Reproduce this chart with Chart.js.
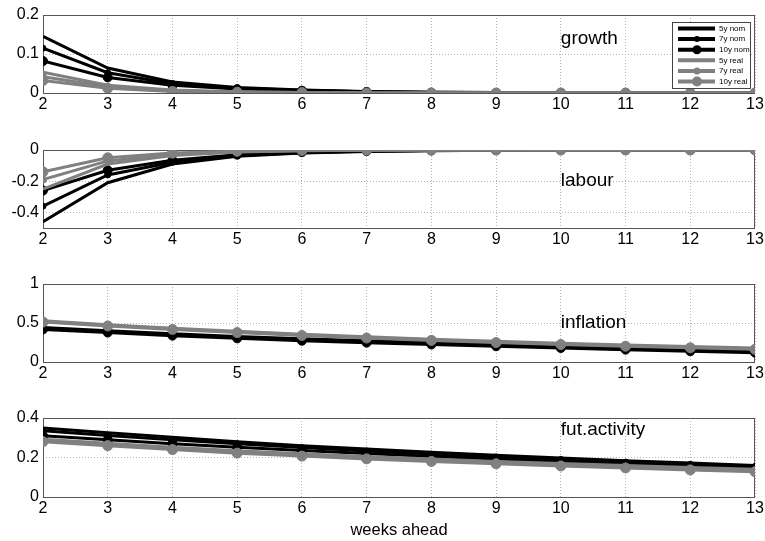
<!DOCTYPE html>
<html>
<head>
<meta charset="utf-8">
<script src="https://cdn.jsdelivr.net/npm/chart.js@4.4.0/dist/chart.umd.min.js"></script>
<style>
body { margin: 0; background: #fff; width: 765px; height: 541px; position: relative; overflow: hidden; }
.panel { position: absolute; left: 0; width: 765px; }
</style>
</head>
<body>
<div class="panel" style="top:5px;height:116px"><canvas id="c0"></canvas></div>
<div class="panel" style="top:140px;height:116px"><canvas id="c1"></canvas></div>
<div class="panel" style="top:274px;height:116px"><canvas id="c2"></canvas></div>
<div class="panel" style="top:408px;height:133px"><canvas id="c3"></canvas></div>
<script>
var weeks = [2, 3, 4, 5, 6, 7, 8, 9, 10, 11, 12, 13];
var seriesNames = ["5y nom", "7y nom", "10y nom", "5y real", "7y real", "10y real"];

// growth
var growth5n  = [0.145, 0.064, 0.028, 0.014, 0.008, 0.004, 0.002, 0.001, 0, 0, 0, 0];
var growth7n  = [0.115, 0.052, 0.024, 0.012, 0.007, 0.003, 0.002, 0.001, 0, 0, 0, 0];
var growth10n = [0.082, 0.040, 0.020, 0.010, 0.006, 0.003, 0.001, 0, 0, 0, 0, 0];
var growth5r  = [0.053, 0.020, 0.008, 0.003, 0.001, 0, 0, 0, 0, 0, 0, 0];
var growth7r  = [0.042, 0.016, 0.006, 0.002, 0.001, 0, 0, 0, 0, 0, 0, 0];
var growth10r = [0.032, 0.012, 0.004, 0.002, 0.001, 0, 0, 0, 0, 0, 0, 0];
// labour
var labour5n  = [-0.46, -0.21, -0.090, -0.040, -0.020, -0.010, -0.005, -0.002, -0.001, 0, 0, 0];
var labour7n  = [-0.36, -0.16, -0.078, -0.035, -0.017, -0.008, -0.004, -0.002, 0, 0, 0, 0];
var labour10n = [-0.26, -0.13, -0.066, -0.030, -0.014, -0.007, -0.003, -0.001, 0, 0, 0, 0];
var labour5r  = [-0.25, -0.09, -0.035, -0.013, -0.005, -0.002, 0, 0, 0, 0, 0, 0];
var labour7r  = [-0.19, -0.07, -0.028, -0.011, -0.004, -0.001, 0, 0, 0, 0, 0, 0];
var labour10r = [-0.14, -0.05, -0.020, -0.008, -0.003, -0.001, 0, 0, 0, 0, 0, 0];
// inflation
var infl5n  = [0.442, 0.402, 0.362, 0.327, 0.297, 0.272, 0.249, 0.226, 0.204, 0.182, 0.162, 0.144];
var infl7n  = [0.430, 0.390, 0.350, 0.315, 0.285, 0.260, 0.237, 0.214, 0.192, 0.170, 0.150, 0.132];
var infl10n = [0.418, 0.378, 0.338, 0.303, 0.273, 0.248, 0.225, 0.202, 0.180, 0.158, 0.138, 0.120];
var infl5r  = [0.528, 0.478, 0.433, 0.393, 0.356, 0.323, 0.293, 0.265, 0.240, 0.218, 0.198, 0.178];
var infl7r  = [0.520, 0.470, 0.425, 0.385, 0.348, 0.315, 0.285, 0.257, 0.232, 0.210, 0.190, 0.170];
var infl10r = [0.512, 0.462, 0.417, 0.377, 0.340, 0.307, 0.277, 0.249, 0.224, 0.202, 0.182, 0.162];
// fut.activity
var fut5n  = [0.350, 0.325, 0.302, 0.280, 0.260, 0.243, 0.226, 0.211, 0.197, 0.184, 0.172, 0.160];
var fut7n  = [0.335, 0.312, 0.290, 0.270, 0.250, 0.233, 0.217, 0.203, 0.190, 0.177, 0.165, 0.154];
var fut10n = [0.310, 0.290, 0.270, 0.252, 0.235, 0.220, 0.205, 0.192, 0.179, 0.167, 0.156, 0.146];
var fut5r  = [0.292, 0.272, 0.252, 0.234, 0.219, 0.205, 0.192, 0.180, 0.169, 0.159, 0.149, 0.140];
var fut7r  = [0.286, 0.266, 0.246, 0.228, 0.213, 0.199, 0.186, 0.174, 0.163, 0.153, 0.143, 0.134];
var fut10r = [0.280, 0.260, 0.240, 0.222, 0.207, 0.193, 0.180, 0.168, 0.157, 0.147, 0.137, 0.128];

var panelTitles = ["growth", "labour", "inflation", "fut.activity"];
var panelTextY = [0.14, -0.2, 0.5, 0.34];
var yTicks = [[0, 0.1, 0.2], [-0.4, -0.2, 0], [0, 0.5, 1], [0, 0.2, 0.4]];
var yTickLabels = [["0", "0.1", "0.2"], ["-0.4", "-0.2", "0"], ["0", "0.5", "1"], ["0", "0.2", "0.4"]];
var yRange = [[0, 0.2], [-0.5, 0], [0, 1], [0, 0.4]];
var xLabel = "weeks ahead";

var panelData = [
	[growth5n, growth7n, growth10n, growth5r, growth7r, growth10r],
	[labour5n, labour7n, labour10n, labour5r, labour7r, labour10r],
	[infl5n, infl7n, infl10n, infl5r, infl7r, infl10r],
	[fut5n, fut7n, fut10n, fut5r, fut7r, fut10r]
];

var colors = ["#000000", "#000000", "#000000", "#808080", "#808080", "#808080"];
var radii = [0, 3, 4.5, 0, 3.5, 5];
var FONT = '"Liberation Sans", Arial, sans-serif';

function makeDatasets(list) {
	return list.map(function(vals, i) {
		return {
			label: seriesNames[i],
			data: weeks.map(function(w, j) { return {x: w, y: vals[j]}; }),
			borderColor: colors[i],
			backgroundColor: colors[i],
			pointBackgroundColor: colors[i],
			pointBorderColor: colors[i],
			pointRadius: radii[i],
			pointBorderWidth: 1,
			borderWidth: 3,
			tension: 0,
			order: 6 - i
		};
	});
}

// axes box + the little text in each panel
var boxPlugin = {
	id: 'box',
	beforeDatasetsDraw: function(chart) {
		var a = chart.chartArea, ctx = chart.ctx;
		ctx.save();
		ctx.strokeStyle = '#555';
		ctx.lineWidth = 1;
		ctx.strokeRect(a.left + 0.5, a.top + 0.5, a.right - a.left - 1, a.bottom - a.top);
		ctx.restore();
	},
	afterDatasetsDraw: function(chart, args, opts) {
		var ctx = chart.ctx;
		ctx.save();
		ctx.font = '19px ' + FONT;
		ctx.fillStyle = '#000';
		ctx.textAlign = 'left';
		ctx.textBaseline = 'middle';
		ctx.fillText(opts.text, chart.scales.x.getPixelForValue(10), chart.scales.y.getPixelForValue(opts.y));
		ctx.restore();
	}
};

// legend drawn inside the first axes
var insideLegend = {
	id: 'insideLegend',
	afterDraw: function(chart, args, opts) {
		if (!opts.show) return;
		var a = chart.chartArea, ctx = chart.ctx;
		var w = 78, h = 66;
		var left = a.right - 5 - w, top = a.top + 7;
		ctx.save();
		ctx.fillStyle = '#fff';
		ctx.fillRect(left, top, w, h);
		ctx.strokeStyle = '#444';
		ctx.lineWidth = 1;
		ctx.strokeRect(left + 0.5, top + 0.5, w, h);
		ctx.font = '8px ' + FONT;
		ctx.textBaseline = 'middle';
		chart.data.datasets.forEach(function(ds, i) {
			var y = top + 6.5 + i * 10.6;
			ctx.strokeStyle = ds.borderColor;
			ctx.lineWidth = 4;
			ctx.beginPath();
			ctx.moveTo(left + 6, y);
			ctx.lineTo(left + 43, y);
			ctx.stroke();
			if (ds.pointRadius > 0) {
				ctx.fillStyle = ds.borderColor;
				ctx.beginPath();
				ctx.arc(left + 25, y, ds.pointRadius, 0, Math.PI * 2);
				ctx.fill();
			}
			ctx.fillStyle = '#000';
			ctx.fillText(ds.label, left + 47, y);
		});
		ctx.restore();
	}
};

function makePanel(k) {
	var last = k === 3;
	var xHeight = last ? 43 : 28;
	return new Chart(document.getElementById('c' + k), {
		type: 'line',
		data: { datasets: makeDatasets(panelData[k]) },
		plugins: [boxPlugin, insideLegend],
		options: {
			responsive: true,
			maintainAspectRatio: false,
			animation: false,
			layout: { padding: { left: 0, right: 10, top: 10, bottom: last ? 1 : 0 } },
			plugins: {
				legend: { display: false },
				tooltip: { enabled: false },
				box: { text: panelTitles[k], y: panelTextY[k] },
				insideLegend: { show: k === 0 }
			},
			scales: {
				x: {
					type: 'linear',
					min: 2,
					max: 13,
					afterBuildTicks: function(s) { s.ticks = weeks.map(function(v) { return {value: v}; }); },
					afterFit: function(s) { s.height = xHeight; s.paddingLeft = 0; s.paddingRight = 0; },
					ticks: { color: '#000', padding: 2, font: { family: FONT, size: 16 }, maxRotation: 0, autoSkip: false },
					grid: { color: '#b4b4b4', drawTicks: false, lineWidth: 1 },
					border: { display: false, dash: [1, 2] },
					title: {
						display: last,
						text: xLabel,
						color: '#000',
						font: { family: FONT, size: 16.5 },
						padding: { top: 0, bottom: 0 }
					}
				},
				y: {
					min: yRange[k][0],
					max: yRange[k][1],
					afterBuildTicks: function(s) { s.ticks = yTicks[k].map(function(v) { return {value: v}; }); },
					afterFit: function(s) { s.width = 43; s.paddingTop = 0; s.paddingBottom = 0; },
					ticks: {
						color: '#000',
						padding: 4,
						font: { family: FONT, size: 16 },
						callback: function(v, i) { return yTickLabels[k][i]; }
					},
					grid: { color: '#b4b4b4', drawTicks: false, lineWidth: 1 },
					border: { display: false, dash: [1, 2] }
				}
			}
		}
	});
}

for (var k = 0; k < 4; k++) makePanel(k);
</script>
</body>
</html>
